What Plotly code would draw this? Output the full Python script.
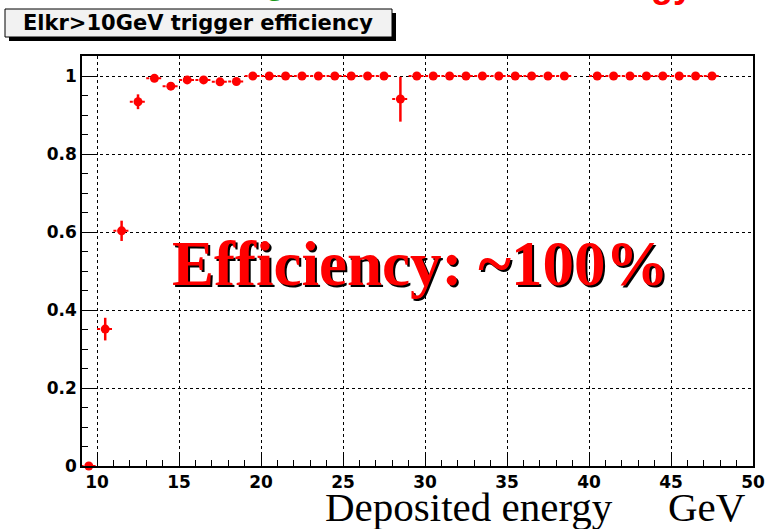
import plotly.graph_objects as go

# ---- data ----
energy = [9.5, 10.5, 11.5, 12.5, 13.5, 14.5, 15.5, 16.5, 17.5, 18.5, 19.5,
          20.5, 21.5, 22.5, 23.5, 24.5, 25.5, 26.5, 27.5, 28.5, 29.5,
          30.5, 31.5, 32.5, 33.5, 34.5, 35.5, 36.5, 37.5, 38.5,
          40.5, 41.5, 42.5, 43.5, 44.5, 45.5, 46.5, 47.5]
efficiency = [0.0, 0.351, 0.603, 0.934, 0.994, 0.974, 0.990, 0.990, 0.985, 0.986, 1.0,
              1.0, 1.0, 1.0, 1.0, 1.0, 1.0, 1.0, 1.0, 0.941, 1.0,
              1.0, 1.0, 1.0, 1.0, 1.0, 1.0, 1.0, 1.0, 1.0,
              1.0, 1.0, 1.0, 1.0, 1.0, 1.0, 1.0, 1.0]
err_up = [0, 0.029, 0.026, 0.019, 0, 0, 0, 0, 0, 0, 0,
          0, 0, 0, 0, 0, 0, 0, 0, 0.057, 0,
          0, 0, 0, 0, 0, 0, 0, 0, 0,
          0, 0, 0, 0, 0, 0, 0, 0]
err_down = [0, 0.029, 0.026, 0.019, 0, 0, 0, 0, 0, 0, 0,
            0, 0, 0, 0, 0, 0, 0, 0, 0.058, 0,
            0, 0, 0, 0, 0, 0, 0, 0, 0,
            0, 0, 0, 0, 0, 0, 0, 0]
bin_half_width = 0.5
x_ticks = [10, 15, 20, 25, 30, 35, 40, 45, 50]
y_ticks = [0, 0.2, 0.4, 0.6, 0.8, 1]
y_tick_labels = ["0", "0.2", "0.4", "0.6", "0.8", "1"]

title_text = "Elkr>10GeV trigger efficiency"
big_text = "Efficiency: ~100%"

# ---- layout helpers ----
W, H = 765, 529
L, R, T, B = 82, 753, 56, 466


def px_x(p):
    return (p - L) / (R - L)


def px_y(p):
    return (B - p) / (B - T)


# horizontal (bin width) error segments
hx, hy = [], []
for xv, yv in zip(energy, efficiency):
    hx += [xv - bin_half_width, xv + bin_half_width, None]
    hy += [yv, yv, None]

fig = go.Figure()
fig.add_trace(go.Scatter(
    x=hx, y=hy, mode="lines",
    line=dict(color="red", width=2, dash="dot"),
    hoverinfo="skip", showlegend=False, cliponaxis=False))
fig.add_trace(go.Scatter(
    x=energy, y=efficiency, mode="markers",
    marker=dict(color="red", size=9, line=dict(width=0)),
    error_y=dict(type="data", symmetric=False, array=err_up, arrayminus=err_down,
                 color="red", thickness=2.5, width=0),
    showlegend=False, cliponaxis=False))

tickfont = dict(family="DejaVu Sans", size=17, color="black", weight="bold")

fig.update_xaxes(
    range=[9.085, 50], tickvals=x_ticks, ticktext=[str(v) for v in x_ticks],
    ticks="inside", ticklen=12, tickwidth=1, tickcolor="black",
    minor=dict(dtick=1, ticks="inside", ticklen=6, tickcolor="black", showgrid=False),
    showline=True, linecolor="black", linewidth=1.5, mirror=True,
    showgrid=True, gridcolor="black", griddash="dot", gridwidth=1,
    tickfont=tickfont, zeroline=False, automargin=False)
fig.update_yaxes(
    range=[0, 1.0513], tickvals=y_ticks, ticktext=y_tick_labels,
    ticks="inside", ticklen=12, tickwidth=1, tickcolor="black",
    minor=dict(dtick=0.05, tick0=0, ticks="inside", ticklen=6, tickcolor="black", showgrid=False),
    showline=True, linecolor="black", linewidth=1.5, mirror=True,
    showgrid=True, gridcolor="black", griddash="dot", gridwidth=1,
    tickfont=tickfont, zeroline=False, automargin=False)

# title box with shadow
fig.add_shape(type="rect", xref="paper", yref="paper",
              x0=px_x(9), x1=px_x(396), y0=px_y(41), y1=px_y(13),
              fillcolor="black", line=dict(width=0), layer="above")
fig.add_shape(type="rect", xref="paper", yref="paper",
              x0=px_x(5), x1=px_x(392), y0=px_y(37), y1=px_y(9),
              fillcolor="#f2f2f2", line=dict(color="black", width=1), layer="above")

annotations = [
    dict(text=title_text, x=px_x(198), y=px_y(23), xanchor="center", yanchor="middle",
         font=dict(family="DejaVu Sans", size=21, color="black", weight="bold")),
    # shadowed big text
    dict(text=big_text, x=px_x(420), y=px_y(264), xanchor="center", yanchor="middle",
         xshift=2, yshift=-2,
         font=dict(family="Liberation Serif", size=63, color="black", weight="bold")),
    dict(text=big_text, x=px_x(420), y=px_y(264), xanchor="center", yanchor="middle",
         font=dict(family="Liberation Serif", size=63, color="red", weight="bold")),
    # axis title parts
    dict(text="Deposited energy", x=px_x(469), y=px_y(507), xanchor="center", yanchor="middle",
         font=dict(family="Liberation Serif", size=41, color="black")),
    dict(text="GeV", x=px_x(707), y=px_y(507), xanchor="center", yanchor="middle",
         font=dict(family="Liberation Serif", size=41, color="black")),
    # cut-off slide title pieces at the very top
    dict(text="g", x=px_x(275), y=px_y(-20), xanchor="center", yanchor="middle",
         font=dict(family="Liberation Sans", size=36, color="#1a9a1a", weight="bold")),
    dict(text="gy", x=px_x(672), y=px_y(-16), xanchor="center", yanchor="middle",
         font=dict(family="Liberation Sans", size=36, color="red", weight="bold")),
]
for a in annotations:
    a.update(xref="paper", yref="paper", showarrow=False)

fig.update_layout(
    width=W, height=H,
    margin=dict(l=L, r=W - R, t=T, b=H - B, autoexpand=False),
    paper_bgcolor="white", plot_bgcolor="white",
    annotations=annotations, showlegend=False)

fig.write_html(
    "out.html",
    config={"displayModeBar": False},
    post_script="document.body.style.margin='0';document.body.style.overflow='hidden';")
